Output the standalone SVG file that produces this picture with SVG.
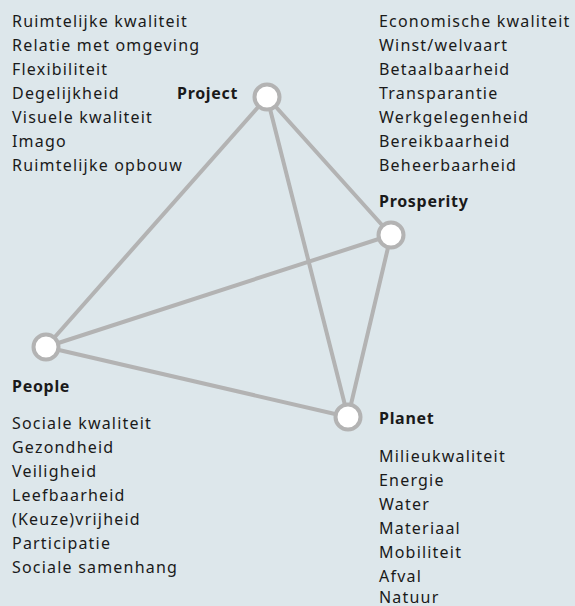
<svg xmlns="http://www.w3.org/2000/svg" width="575" height="606" viewBox="0 0 575 606">
<style>
text{font-family:"Noto Sans","DejaVu Sans",sans-serif;font-size:16px;fill:#1a1a1a;letter-spacing:1.2px}
.b{font-weight:bold;letter-spacing:0.7px}
.edge{stroke:#b3b3b3;stroke-width:4;fill:none;stroke-linecap:round}
.node{fill:#ffffff;stroke:#b3b3b3;stroke-width:4}
</style>
<rect width="575" height="606" fill="#dde7eb"/>
<g id="connectors">
<line class="edge" x1="267" y1="97" x2="46" y2="347"/>
<line class="edge" x1="267" y1="97" x2="391" y2="235"/>
<line class="edge" x1="267" y1="97" x2="348" y2="417"/>
<line class="edge" x1="46" y1="347" x2="391" y2="235"/>
<line class="edge" x1="46" y1="347" x2="348" y2="417"/>
<line class="edge" x1="391" y1="235" x2="348" y2="417"/>
</g>
<g id="project">
<circle class="node" cx="267" cy="97" r="12.5"/>
<text class="b" x="177" y="99">Project</text>
<text x="12" y="26.5">Ruimtelijke kwaliteit</text>
<text x="12" y="50.5">Relatie met omgeving</text>
<text x="12" y="74.5">Flexibiliteit</text>
<text x="12" y="98.5">Degelijkheid</text>
<text x="12" y="122.5">Visuele kwaliteit</text>
<text x="12" y="146.5">Imago</text>
<text x="12" y="170.5">Ruimtelijke opbouw</text>
</g>
<g id="prosperity">
<circle class="node" cx="391" cy="235" r="12.5"/>
<text class="b" x="379" y="207">Prosperity</text>
<text x="379" y="26.5">Economische kwaliteit</text>
<text x="379" y="50.5">Winst/welvaart</text>
<text x="379" y="74.5">Betaalbaarheid</text>
<text x="379" y="98.5">Transparantie</text>
<text x="379" y="122.5">Werkgelegenheid</text>
<text x="379" y="146.5">Bereikbaarheid</text>
<text x="379" y="170.5">Beheerbaarheid</text>
</g>
<g id="people">
<circle class="node" cx="46" cy="347" r="12.5"/>
<text class="b" x="12" y="391.5">People</text>
<text x="12" y="428.5">Sociale kwaliteit</text>
<text x="12" y="452.5">Gezondheid</text>
<text x="12" y="476.5">Veiligheid</text>
<text x="12" y="500.5">Leefbaarheid</text>
<text x="12" y="524.5">(Keuze)vrijheid</text>
<text x="12" y="548.5">Participatie</text>
<text x="12" y="572.5">Sociale samenhang</text>
</g>
<g id="planet">
<circle class="node" cx="348" cy="417" r="12.5"/>
<text class="b" x="379" y="423.5">Planet</text>
<text x="379" y="461.5">Milieukwaliteit</text>
<text x="379" y="485.5">Energie</text>
<text x="379" y="509.5">Water</text>
<text x="379" y="533.5">Materiaal</text>
<text x="379" y="557.5">Mobiliteit</text>
<text x="379" y="581.5">Afval</text>
<text x="379" y="603">Natuur</text>
</g>
</svg>
